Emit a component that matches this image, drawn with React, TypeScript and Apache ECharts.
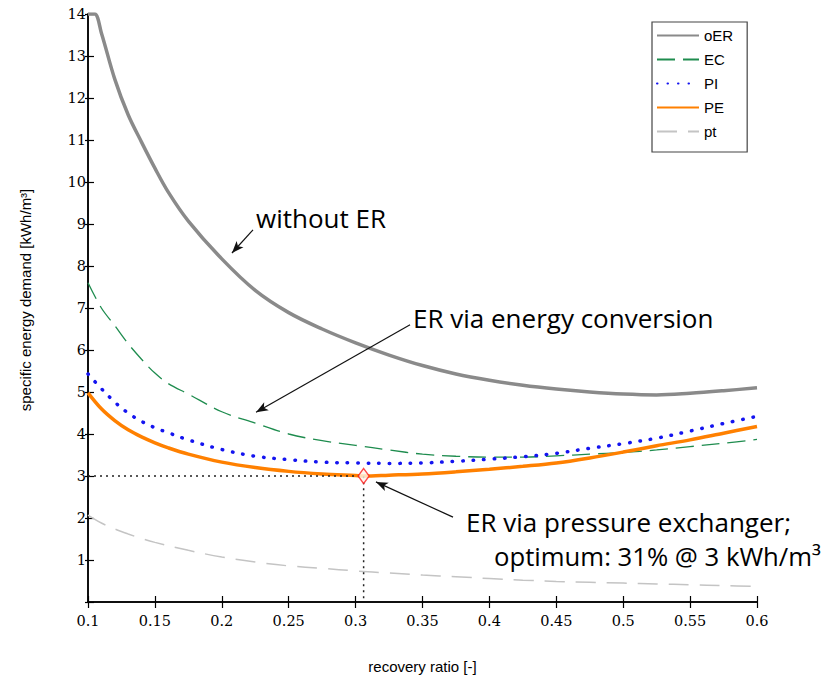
import React, { useEffect, useRef } from "react";
import * as echarts from "echarts";

// recovery ratio (x) vs specific energy demand [kWh/m³] (y)
const oER: [number, number][] = [
  [0.1, 14], [0.105, 14], [0.11, 13.55], [0.12, 12.45], [0.13, 11.6], [0.14, 10.95],
  [0.15, 10.33], [0.16, 9.76], [0.175, 9.07], [0.2, 8.17], [0.225, 7.42], [0.25, 6.89],
  [0.275, 6.5], [0.3, 6.17], [0.325, 5.88], [0.35, 5.63], [0.375, 5.43], [0.4, 5.28],
  [0.425, 5.16], [0.45, 5.07], [0.475, 5.0], [0.5, 4.95], [0.525, 4.93], [0.55, 4.97],
  [0.575, 5.03], [0.6, 5.1],
];
const EC: [number, number][] = [
  [0.1, 7.6], [0.11, 7.0], [0.12, 6.58], [0.13, 6.15], [0.14, 5.78], [0.15, 5.45],
  [0.16, 5.2], [0.175, 4.95], [0.2, 4.53], [0.225, 4.26], [0.25, 4.0], [0.275, 3.84],
  [0.3, 3.73], [0.325, 3.62], [0.35, 3.52], [0.375, 3.47], [0.4, 3.45], [0.425, 3.45],
  [0.45, 3.48], [0.475, 3.52], [0.5, 3.56], [0.525, 3.62], [0.55, 3.7], [0.575, 3.78],
  [0.6, 3.87],
];
const PI: [number, number][] = [
  [0.1, 5.43], [0.11, 5.08], [0.12, 4.76], [0.13, 4.5], [0.14, 4.3], [0.15, 4.15],
  [0.16, 4.03], [0.175, 3.86], [0.2, 3.63], [0.225, 3.47], [0.25, 3.39], [0.275, 3.33],
  [0.3, 3.31], [0.325, 3.3], [0.35, 3.31], [0.375, 3.35], [0.4, 3.4], [0.425, 3.46],
  [0.45, 3.54], [0.475, 3.66], [0.5, 3.77], [0.525, 3.9], [0.55, 4.07], [0.575, 4.25],
  [0.6, 4.42],
];
const PE: [number, number][] = [
  [0.1, 4.98], [0.11, 4.6], [0.12, 4.32], [0.13, 4.1], [0.14, 3.93], [0.15, 3.79],
  [0.16, 3.67], [0.175, 3.52], [0.2, 3.33], [0.225, 3.2], [0.25, 3.11], [0.275, 3.05],
  [0.3, 3.01], [0.306, 3.0], [0.325, 3.02], [0.35, 3.05], [0.375, 3.1], [0.4, 3.16],
  [0.425, 3.23], [0.45, 3.31], [0.475, 3.43], [0.5, 3.57], [0.525, 3.72], [0.55, 3.86],
  [0.575, 4.02], [0.6, 4.18],
];
const pt: [number, number][] = [
  [0.1, 2.07], [0.11, 1.88], [0.12, 1.74], [0.13, 1.62], [0.14, 1.51], [0.15, 1.42],
  [0.175, 1.23], [0.2, 1.07], [0.225, 0.95], [0.25, 0.86], [0.275, 0.8], [0.3, 0.74],
  [0.325, 0.69], [0.35, 0.64], [0.375, 0.6], [0.4, 0.56], [0.425, 0.52], [0.45, 0.49],
  [0.475, 0.47], [0.5, 0.45], [0.525, 0.43], [0.55, 0.41], [0.575, 0.39], [0.6, 0.37],
];
const optimum: [number, number] = [0.306, 3.0];
const optimumGuide: [number, number][] = [[0.1, 3], [0.306, 3], [0.306, 0]];
const legendNames = ["oER", "EC", "PI", "PE", "pt"];

// annotation arrows [from, to] in data coordinates
const arrows: [[number, number], [number, number]][] = [
  [[0.2233, 8.86], [0.2076, 8.31]],
  [[0.3407, 6.6], [0.2256, 4.52]],
  [[0.3728, 2.02], [0.3152, 2.86]],
];

const serif = "DejaVu Serif";
const sans = "Liberation Sans";
const annoFont = "Open Sans";

export default function App() {
  const ref = useRef<HTMLDivElement>(null);
  useEffect(() => {
    if (!ref.current) return;
    const chart = echarts.init(ref.current, null, { renderer: "svg" });
    const axisCommon = {
      axisLine: { show: true, onZero: false, lineStyle: { color: "#000", width: 1.5 } },
      splitLine: { show: false },
    };
    const mkX = (inside: boolean, labels: boolean) => ({
      type: "value",
      min: 0.1,
      max: 0.6,
      interval: 0.05,
      position: "bottom",
      offset: 0,
      ...axisCommon,
      axisTick: { show: true, inside, length: 6, lineStyle: { color: "#000", width: 1.2 } },
      axisLabel: {
        show: labels,
        margin: 11,
        color: "#000",
        fontFamily: serif,
        fontSize: 14.5,
        formatter: (v: number) => String(+v.toFixed(2)),
      },
      name: labels ? "recovery ratio [-]" : "",
      nameLocation: "middle",
      nameGap: 57,
      nameTextStyle: { color: "#000", fontFamily: sans, fontSize: 15 },
    });
    const mkY = (inside: boolean, labels: boolean) => ({
      type: "value",
      min: 0,
      max: 14,
      interval: 1,
      position: "left",
      offset: 0,
      ...axisCommon,
      axisTick: { show: true, inside, length: inside ? 6 : 3, lineStyle: { color: "#000", width: 1.2 } },
      axisLabel: {
        show: labels,
        margin: 2,
        color: "#000",
        fontFamily: serif,
        fontSize: 14.5,
        formatter: (v: number) => (v === 0 ? "" : String(v)),
      },
    });

    const line = (name: string, data: [number, number][], color: string, width: number, type: any, extra: any = {}) => ({
      name,
      type: "line",
      data,
      xAxisIndex: 0,
      yAxisIndex: 0,
      symbol: "circle",
      symbolSize: 0,
      showSymbol: false,
      smooth: 0.35,
      color,
      itemStyle: { color, opacity: 0 },
      lineStyle: { color, width, type, ...extra },
      z: 3,
    });

    chart.setOption({
      animation: false,
      backgroundColor: "#fff",
      textStyle: { fontFamily: sans },
      grid: { left: 88, right: 74, top: 14, bottom: 79, containLabel: false },
      xAxis: [mkX(true, true), mkX(false, false)],
      yAxis: [mkY(true, true), mkY(false, false)],
      legend: {
        data: legendNames,
        orient: "vertical",
        left: 652,
        top: 22,
        itemWidth: 42,
        itemHeight: 14,
        itemGap: 9,
        padding: [6, 14, 13, 4],
        backgroundColor: "#fff",
        borderColor: "#444",
        borderWidth: 1.2,
        borderRadius: 0,
        itemStyle: { opacity: 0 },
        textStyle: { color: "#000", fontFamily: sans, fontSize: 15 },
        selectedMode: false,
      },
      series: [
        line("oER", oER, "#8a8a8a", 3.5, "solid"),
        line("EC", EC, "#1e8c4e", 1.3, [18, 8]),
        line("PI", PI, "#1414f0", 3.5, [0.5, 10], { cap: "round" }),
        line("pt", pt, "#c4c4c4", 1.5, [20, 11]),
        line("PE", PE, "#ff8000", 3.5, "solid"),
        {
          name: "guide",
          type: "line",
          data: optimumGuide,
          symbol: "none",
          lineStyle: { color: "#222", width: 1.5, type: [2, 4] },
          z: 4,
          markLine: {
            silent: true,
            symbol: ["none", "arrow"],
            symbolSize: [7, 12],
            label: { show: false },
            lineStyle: { color: "#111", width: 1.2, type: "solid" },
            data: arrows.map(([a, b]) => [{ coord: a }, { coord: b }]),
          },
        },
        {
          name: "optimum",
          type: "scatter",
          data: [optimum],
          symbol: "diamond",
          symbolSize: [11, 15],
          itemStyle: { color: "#fff4ea", borderColor: "#ff1a1a", borderWidth: 1.5 },
          z: 5,
        },
      ],
      graphic: [
        { type: "text", x: 25, y: 300, rotation: Math.PI / 2, style: { text: "specific energy demand [kWh/m³]", fontFamily: sans, fontSize: 15, fill: "#000", align: "center", verticalAlign: "middle" } },
        { type: "text", x: 256, y: 218, style: { text: "without ER", fontFamily: annoFont, fontSize: 26, fill: "#000", verticalAlign: "middle" } },
        { type: "text", x: 413, y: 318, style: { text: "ER via energy conversion", fontFamily: annoFont, fontSize: 26, fill: "#000", verticalAlign: "middle" } },
        { type: "text", x: 466, y: 522, style: { text: "ER via pressure exchanger;", fontFamily: annoFont, fontSize: 26, fill: "#000", verticalAlign: "middle" } },
        { type: "text", x: 494, y: 556, style: { text: "optimum: 31% @ 3 kWh/m³", fontFamily: annoFont, fontSize: 25.7, fill: "#000", verticalAlign: "middle" } },
      ],
    });
    return () => chart.dispose();
  }, []);
  return <div ref={ref} style={{ position: "fixed", left: 0, top: 0, width: 831, height: 681 }} />;
}
